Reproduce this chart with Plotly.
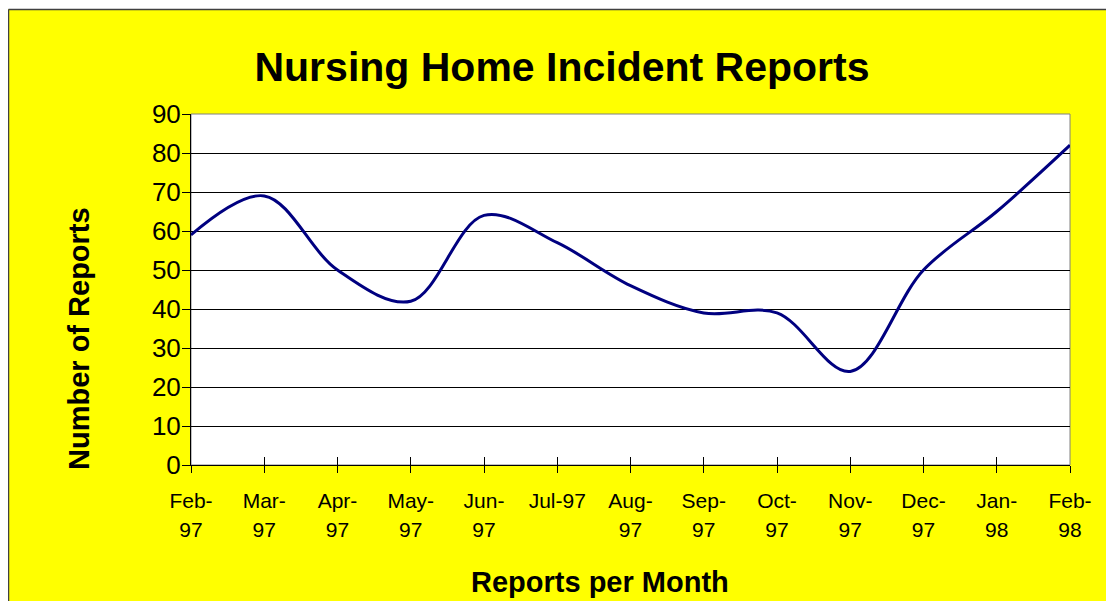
import plotly.graph_objects as go

months = ["Feb-97", "Mar-97", "Apr-97", "May-97", "Jun-97", "Jul-97", "Aug-97",
          "Sep-97", "Oct-97", "Nov-97", "Dec-97", "Jan-98", "Feb-98"]
label_top = ["Feb-", "Mar-", "Apr-", "May-", "Jun-", "Jul-97", "Aug-",
             "Sep-", "Oct-", "Nov-", "Dec-", "Jan-", "Feb-"]
label_bottom = ["97", "97", "97", "97", "97", "", "97",
                "97", "97", "97", "97", "98", "98"]
reports = [59, 69, 50, 42, 64, 57, 46, 39, 39, 24, 50, 65, 82]
y_ticks = list(range(0, 91, 10))

FONT = "Liberation Sans, Arial, sans-serif"
OFF = 8  # page body margin
W, H = 1114 - OFF, 601 - OFF
L, R, T, B = 191 - OFF, 44, 114 - OFF, 136
PW, PH = W - L - R, H - T - B

def px_x(sx):  # screen px -> paper
    return (sx - OFF - L) / PW

def px_y(sy):
    return (H - B - (sy - OFF)) / PH

idx = list(range(len(months)))

fig = go.Figure()
fig.add_trace(go.Scatter(
    x=idx, y=reports, mode="lines", name="Reports",
    line=dict(color="#000080", width=3, shape="spline", smoothing=1.0),
    text=months, hovertemplate="%{text}: %{y}<extra></extra>",
))
# carrier for the second row of month labels (draws nothing)
fig.add_trace(go.Scatter(x=idx, y=reports, xaxis="x2", mode="none",
                         hoverinfo="skip", showlegend=False))

fig.update_layout(
    width=W, height=H,
    margin=dict(l=L, r=R, t=T, b=B),
    paper_bgcolor="#FFFF00",
    plot_bgcolor="#FFFFFF",
    showlegend=False,
    font=dict(family=FONT, color="#000000"),
    title=dict(text="<b>Nursing Home Incident Reports</b>",
               font=dict(family=FONT, size=41, color="#000000"),
               x=(562 - OFF) / W, xref="container", xanchor="center",
               y=1 - (67 - OFF) / H, yref="container", yanchor="middle"),
    xaxis=dict(range=[0, 12], tickmode="array", tickvals=idx, ticktext=label_top,
               ticks="outside", ticklen=7, tickcolor="#000000", tickwidth=1,
               showline=True, linecolor="#000000", linewidth=1,
               showgrid=False, zeroline=False,
               tickfont=dict(family=FONT, size=21, color="#000000"),
               ticklabelstandoff=10),
    xaxis2=dict(range=[0, 12], overlaying="x", anchor="y", side="bottom",
                tickmode="array", tickvals=idx, ticktext=label_bottom,
                ticks="inside", ticklen=8, tickcolor="#000000", tickwidth=1,
                showline=False, showgrid=False, zeroline=False,
                tickfont=dict(family=FONT, size=21, color="#000000"),
                ticklabelstandoff=50),
    yaxis=dict(range=[0, 90], tickmode="array", tickvals=y_ticks,
               ticks="outside", ticklen=8, tickcolor="#000000", tickwidth=1,
               showline=True, linecolor="#000000", linewidth=1,
               showgrid=True, gridcolor="#000000", gridwidth=1, zeroline=False,
               tickfont=dict(family=FONT, size=26, color="#000000"),
               ticklabelstandoff=-4),
)

shapes = [
    dict(type="rect", xref="x domain", yref="y domain", x0=0, x1=1, y0=0, y1=1,
         line=dict(color="#808080", width=1), layer="below"),
    # white strip above the chart area
    dict(type="rect", xref="paper", yref="paper",
         x0=px_x(0), x1=px_x(1120), y0=px_y(9), y1=px_y(0),
         fillcolor="#FFFFFF", line=dict(width=0), layer="above"),
    # chart-area border
    dict(type="line", xref="paper", yref="paper",
         x0=px_x(8.5), x1=px_x(1120), y0=px_y(9.5), y1=px_y(9.5),
         line=dict(color="#404040", width=1.5), layer="above"),
    dict(type="line", xref="paper", yref="paper",
         x0=px_x(8.5), x1=px_x(8.5), y0=px_y(9.5), y1=px_y(610),
         line=dict(color="#404040", width=1.5), layer="above"),
]
fig.update_layout(shapes=shapes)

fig.add_annotation(text="<b>Number of Reports</b>", xref="paper", yref="paper",
                   x=px_x(79), y=px_y(339), xanchor="center", yanchor="middle",
                   textangle=-90, showarrow=False,
                   font=dict(family=FONT, size=29, color="#000000"))
fig.add_annotation(text="<b>Reports per Month</b>", xref="paper", yref="paper",
                   x=px_x(599.5), y=px_y(582), xanchor="center", yanchor="middle",
                   showarrow=False,
                   font=dict(family=FONT, size=29, color="#000000"))

fig.write_html("out.html")
